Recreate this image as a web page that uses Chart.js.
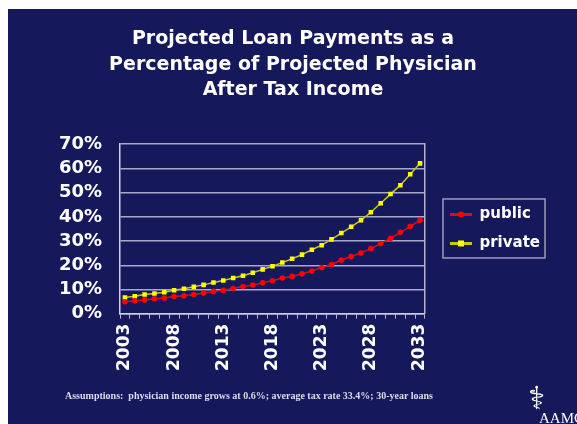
<!DOCTYPE html>
<html>
<head>
<meta charset="utf-8">
<script src="https://cdn.jsdelivr.net/npm/chart.js@4"></script>
<style>
html, body { margin: 0; padding: 0; background: #ffffff; width: 577px; height: 424px; overflow: hidden; }
#slide { position: absolute; left: 8px; top: 9px; width: 569px; height: 415px; background: #16185c; overflow: hidden; }
#chart { position: absolute; left: 0; top: 0; }
#note { position: absolute; left: 57px; top: 381px; font: bold 10px "Liberation Serif", serif; color: #dcdcec; white-space: pre; }
#staff { position: absolute; left: 520px; top: 370px; font: 32px "DejaVu Sans", sans-serif; color: #ffffff; }
#aamc { position: absolute; left: 531px; top: 401px; font: 15px "Liberation Serif", serif; color: #ffffff; white-space: pre; }
</style>
</head>
<body>
<div id="slide">
  <canvas id="chart" width="569" height="415"></canvas>
  <div id="note">Assumptions:  physician income grows at 0.6%; average tax rate 33.4%; 30-year loans</div>
  <div id="staff">⚕</div>
  <div id="aamc">AAMC</div>
</div>
<script>
var titleLines = ['Projected Loan Payments as a', 'Percentage of Projected Physician', 'After Tax Income'];

var years = ['2003', '2004', '2005', '2006', '2007', '2008', '2009', '2010', '2011', '2012',
             '2013', '2014', '2015', '2016', '2017', '2018', '2019', '2020', '2021', '2022',
             '2023', '2024', '2025', '2026', '2027', '2028', '2029', '2030', '2031', '2032', '2033'];
var shownYears = ['2003', '2008', '2013', '2018', '2023', '2028', '2033'];

// percent of after tax income
var publicPct = [4.9, 5.3, 5.7, 6.2, 6.5, 7.1, 7.4, 7.9, 8.5, 9.2,
                 9.7, 10.4, 11.2, 11.8, 12.8, 13.6, 14.7, 15.4, 16.5, 17.6,
                 19.1, 20.3, 22.2, 23.6, 25.1, 26.9, 29.0, 31.1, 33.6, 36.1, 38.6];
var privatePct = [6.7, 7.2, 7.9, 8.3, 8.9, 9.7, 10.3, 11.1, 11.9, 12.9,
                  13.7, 14.7, 15.7, 16.9, 18.3, 19.6, 21.1, 22.7, 24.4, 26.4,
                  28.3, 30.7, 33.3, 35.9, 38.6, 41.9, 45.6, 49.4, 53.1, 57.6, 62.1];
var yTicks = [0, 10, 20, 30, 40, 50, 60, 70];

var seriesNames = ['public', 'private'];
var lineColors = ['#d0101c', '#c8c818'];
var dotColors = ['#ff0000', '#ffff00'];

var boldFont = function(size, lh) {
    return { family: 'DejaVu Sans', weight: 'bold', size: size, lineHeight: lh || 1.2 };
};

// box round the legend, with a dot on each legend line
var legendBoxPlugin = {
    id: 'legendBox',
    afterDraw: function(chart) {
        var boxes = chart.legend.legendHitBoxes, ctx = chart.ctx;
        if (!boxes || !boxes.length) return;
        var l = Infinity, t = Infinity, r = -Infinity, b = -Infinity;
        ctx.save();
        boxes.forEach(function(h, i) {
            l = Math.min(l, h.left); t = Math.min(t, h.top);
            r = Math.max(r, h.left + h.width); b = Math.max(b, h.top + h.height);
            var cx = h.left + 11, cy = h.top + h.height / 2;
            ctx.fillStyle = dotColors[i];
            ctx.beginPath();
            if (i === 0) {
                ctx.arc(cx, cy, 3, 0, Math.PI * 2);
            } else {
                ctx.rect(cx - 3, cy - 3, 6, 6);
            }
            ctx.fill();
        });
        ctx.strokeStyle = '#9c9cbc';
        ctx.lineWidth = 1.5;
        ctx.strokeRect(l - 7, t - 8, r - l + 12, b - t + 15);
        ctx.restore();
    }
};

var ctx = document.getElementById('chart').getContext('2d');
new Chart(ctx, {
    type: 'line',
    data: {
        labels: years,
        datasets: [{
            label: seriesNames[0],
            data: publicPct,
            borderColor: lineColors[0],
            backgroundColor: dotColors[0],
            pointBackgroundColor: dotColors[0],
            pointBorderWidth: 0,
            pointStyle: 'circle',
            pointRadius: 2.8,
            borderWidth: 1.5,
            tension: 0
        }, {
            label: seriesNames[1],
            data: privatePct,
            borderColor: lineColors[1],
            backgroundColor: dotColors[1],
            pointBackgroundColor: dotColors[1],
            pointBorderWidth: 0,
            pointStyle: 'rect',
            pointRadius: 3.2,
            borderWidth: 1.5,
            tension: 0
        }]
    },
    options: {
        responsive: false,
        animation: false,
        devicePixelRatio: 1,
        layout: { padding: { left: 28, right: 27, top: 0, bottom: 48 } },
        plugins: {
            title: {
                display: true,
                text: titleLines,
                color: '#ffffff',
                font: boldFont(19, 1.32),
                padding: { top: 18, bottom: 42 }
            },
            legend: {
                position: 'right',
                fullSize: false,
                maxWidth: 200,
                labels: {
                    color: '#ffffff',
                    font: boldFont(15),
                    boxWidth: 22,
                    boxHeight: 3,
                    padding: 14,
                    generateLabels: function(chart) {
                        return seriesNames.map(function(name, i) {
                            return {
                                text: name,
                                fillStyle: lineColors[i],
                                strokeStyle: lineColors[i],
                                lineWidth: 0,
                                fontColor: '#ffffff',
                                datasetIndex: i
                            };
                        });
                    }
                }
            },
            tooltip: { enabled: false }
        },
        scales: {
            x: {
                offset: true,
                grid: { offset: true, drawOnChartArea: false, color: '#b8b8d4', tickLength: 5 },
                border: { color: '#d0d0e4', width: 1.5 },
                ticks: {
                    autoSkip: false,
                    maxRotation: 90,
                    minRotation: 90,
                    color: '#ffffff',
                    font: boldFont(17),
                    padding: 5,
                    callback: function(v, i) {
                        return shownYears.indexOf(years[i]) >= 0 ? years[i] : '';
                    }
                }
            },
            y: {
                min: yTicks[0],
                max: yTicks[yTicks.length - 1],
                afterBuildTicks: function(axis) {
                    axis.ticks = yTicks.map(function(v) { return { value: v }; });
                },
                afterFit: function(axis) { axis.width = 84; },
                grid: { color: '#a8a8c8', lineWidth: 1.5, drawTicks: false },
                border: { color: '#d0d0e4', width: 1.5 },
                ticks: {
                    autoSkip: false,
                    color: '#ffffff',
                    font: boldFont(18),
                    padding: 18,
                    callback: function(v) { return v + '%'; }
                }
            },
            // right edge of the plot frame
            yRight: {
                position: 'right',
                min: yTicks[0],
                max: yTicks[yTicks.length - 1],
                afterFit: function(axis) { axis.width = 11; },
                grid: { drawOnChartArea: false, drawTicks: false },
                border: { color: '#b4b4d0', width: 1.5 },
                ticks: { display: false }
            }
        }
    },
    plugins: [legendBoxPlugin]
});
</script>
</body>
</html>
